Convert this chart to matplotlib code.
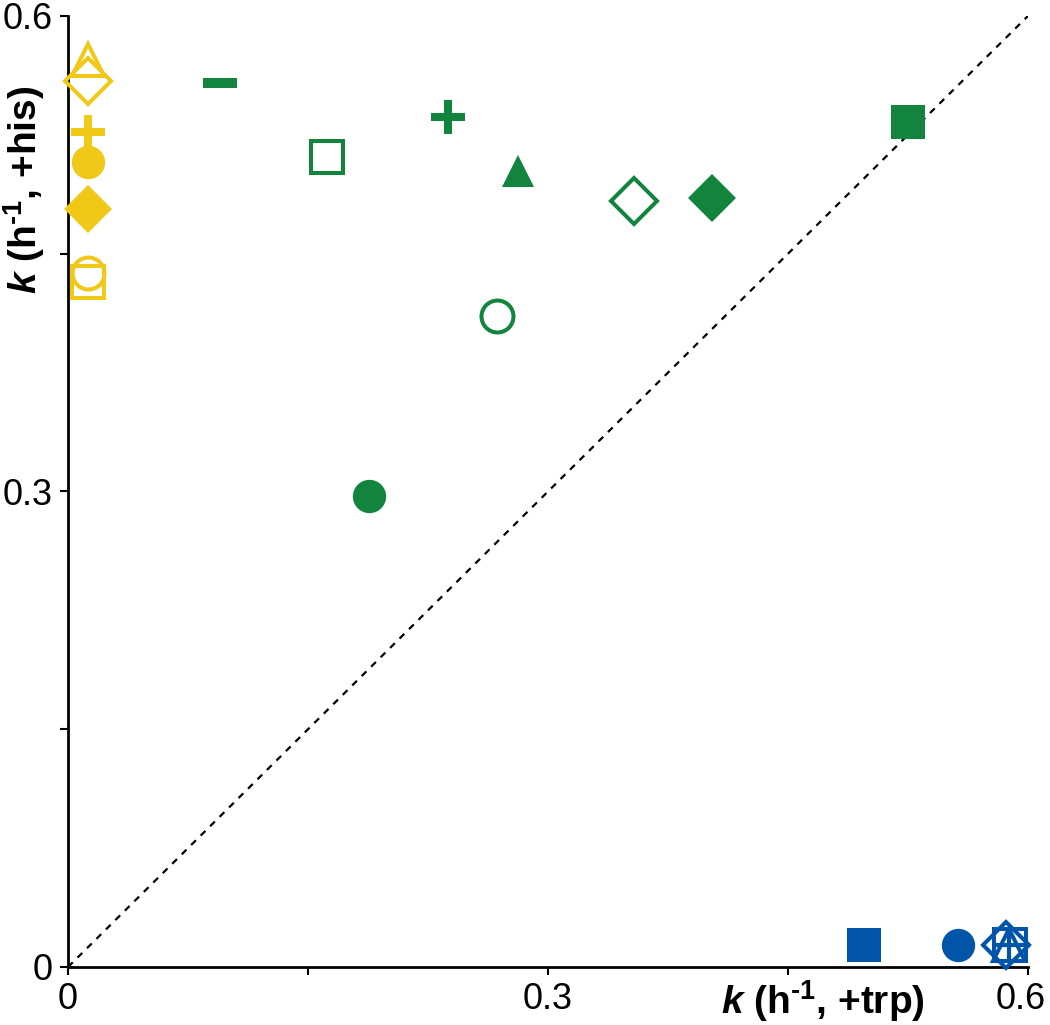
import matplotlib
matplotlib.use("Agg")
import matplotlib.pyplot as plt
import matplotlib.transforms as mtransforms

plt.rcParams['font.family'] = ['Liberation Sans', 'DejaVu Sans']
plt.rcParams['mathtext.fontset'] = 'custom'
plt.rcParams['mathtext.rm'] = 'Liberation Sans:bold'
plt.rcParams['mathtext.bf'] = 'Liberation Sans:bold'
plt.rcParams['mathtext.it'] = 'Liberation Sans:bold:italic'
plt.rcParams['mathtext.default'] = 'rm'

YELLOW = '#F0C818'
GREEN = '#12843D'
BLUE = '#0055A8'

# marker, filled, k (+trp), k (+his)
yellow_markers = ['^', 'D', 'P', 'o', 'D', 'o', 's']
yellow_filled = [False, False, True, True, True, False, False]
yellow_x = [0.0125, 0.0125, 0.0125, 0.0125, 0.0125, 0.0125, 0.0125]
yellow_y = [0.572, 0.559, 0.527, 0.508, 0.478, 0.438, 0.432]

green_markers = ['_', 's', 'P', '^', 'D', 'D', 's', 'o', 'o']
green_filled = [True, False, True, True, False, True, True, False, True]
green_x = [0.095, 0.162, 0.2375, 0.281, 0.354, 0.4025, 0.525, 0.268, 0.188]
green_y = [0.558, 0.511, 0.536, 0.502, 0.483, 0.485, 0.533, 0.411, 0.297]

blue_markers = ['s', 'o', 'D', 's', '^', 'P']
blue_filled = [True, True, False, False, False, False]
blue_x = [0.4975, 0.556, 0.5865, 0.589, 0.588, 0.588]
blue_y = [0.014, 0.014, 0.014, 0.014, 0.014, 0.014]

sizes = {'o': 24, 's': 24.5, 'D': 24.5, '^': 23.5, 'P': 24, '_': 24.5}

fig = plt.figure(figsize=(10.5, 10.25), dpi=100)
ax = fig.add_axes([0.0648, 0.0566, 0.9142, 0.9278])

# diagonal k(+trp) = k(+his)
ax.plot([0, 0.6], [0, 0.6], ls=(0, (3, 3)), color='black', lw=1.6, zorder=1)


def draw(markers, filled, xs, ys, color):
    for m, f, x, y in zip(markers, filled, xs, ys):
        ms = sizes[m]
        if m == '_':
            ax.plot(x, y, marker='_', ms=ms, mew=7.2, color=color, clip_on=False, zorder=3)
        elif m == 'P':
            lw = 5.8 if f else 3
            ax.plot(x, y, marker='+', ms=ms, mew=lw, color=color, clip_on=False, zorder=3)
        elif f:
            ax.plot(x, y, marker=m, ms=ms, mew=0, color=color, clip_on=False, zorder=3)
        else:
            ax.plot(x, y, marker=m, ms=ms - 1, mew=2.9, mfc='none', mec=color,
                    clip_on=False, zorder=3)


draw(yellow_markers, yellow_filled, yellow_x, yellow_y, YELLOW)
draw(green_markers, green_filled, green_x, green_y, GREEN)
draw(blue_markers, blue_filled, blue_x, blue_y, BLUE)

ax.set_xlim(0, 0.6)
ax.set_ylim(0, 0.6)
ticks = [0, 0.15, 0.3, 0.45, 0.6]
labels = ['0', '', '0.3', '', '0.6']
ax.set_xticks(ticks)
ax.set_xticklabels(labels)
ax.set_yticks(ticks)
ax.set_yticklabels(labels)
ax.tick_params(direction='out', length=6, width=1.5, labelsize=26, pad=5)
for s in ['top', 'right']:
    ax.spines[s].set_visible(False)
for s in ['left', 'bottom']:
    ax.spines[s].set_linewidth(2)

# keep the last x tick label inside the figure
last = ax.get_xticklabels()[-1]
last.set_transform(last.get_transform() + mtransforms.ScaledTranslation(-5 / 72, 0, fig.dpi_scale_trans))

ax.text(0.786, -0.036, r'$\mathit{k}$ (h$^{\text{-}1}$, +trp)', transform=ax.transAxes,
        ha='center', va='center', fontsize=28, fontweight='bold')
ax.text(-0.046, 0.817, r'$\mathit{k}$ (h$^{\text{-}1}$, +his)', transform=ax.transAxes,
        ha='center', va='center', fontsize=28, fontweight='bold', rotation=90)

fig.savefig('out.png', dpi=100)
